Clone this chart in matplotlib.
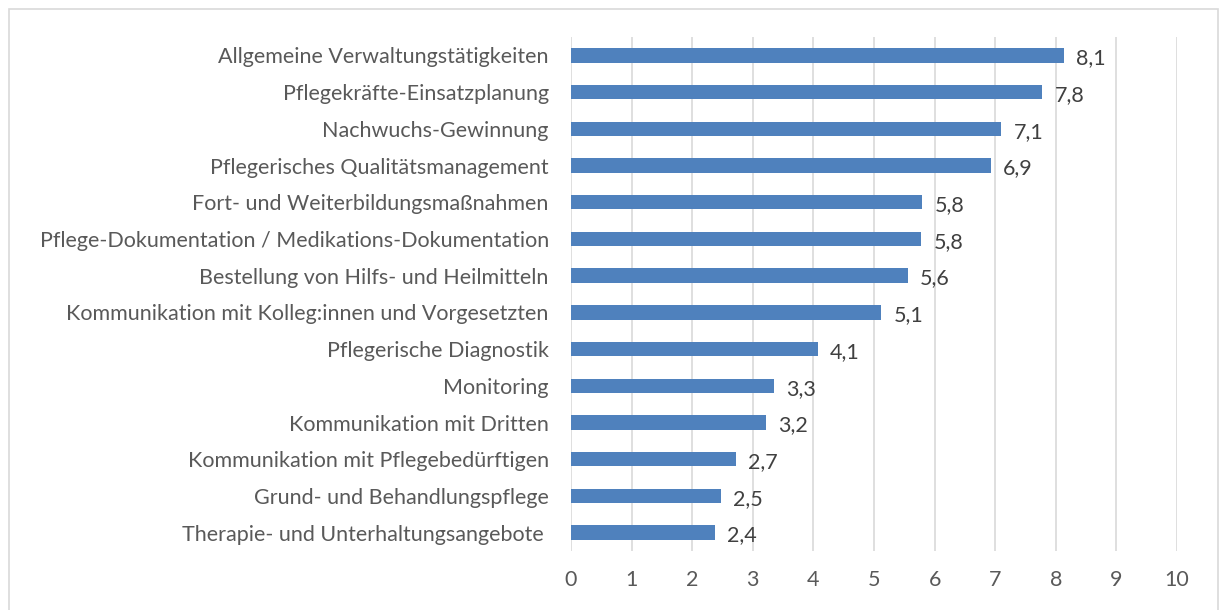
import matplotlib
matplotlib.use("Agg")
import matplotlib.pyplot as plt
from matplotlib.patches import Rectangle

categories = [
    "Allgemeine Verwaltungstätigkeiten",
    "Pflegekräfte-Einsatzplanung",
    "Nachwuchs-Gewinnung",
    "Pflegerisches Qualitätsmanagement",
    "Fort- und Weiterbildungsmaßnahmen",
    "Pflege-Dokumentation / Medikations-Dokumentation",
    "Bestellung von Hilfs- und Heilmitteln",
    "Kommunikation mit Kolleg:innen und Vorgesetzten",
    "Pflegerische Diagnostik",
    "Monitoring",
    "Kommunikation mit Dritten",
    "Kommunikation mit Pflegebedürftigen",
    "Grund- und Behandlungspflege",
    "Therapie- und Unterhaltungsangebote ",
]
values = [8.14, 7.78, 7.1, 6.93, 5.8, 5.78, 5.56, 5.12, 4.07, 3.35, 3.22, 2.72, 2.47, 2.38]
shown = ["8,1", "7,8", "7,1", "6,9", "5,8", "5,8", "5,6", "5,1", "4,1", "3,3", "3,2", "2,7", "2,5", "2,4"]
xticks = list(range(0, 11))

plt.rcParams["font.family"] = ["Lato", "DejaVu Sans"]
fig = plt.figure(figsize=(12.24, 6.10), dpi=100)
ax = fig.add_axes([571 / 1224, 1 - 551 / 610, 606 / 1224, 514 / 610])

y = list(range(len(categories)))
ax.barh(y, values, height=0.39, color="#4F81BD", zorder=3)
for yi, v, s in zip(y, values, shown):
    ax.text(v + 0.2, yi + 0.08, s, va="center", ha="left", fontsize=15.5, color="#404040")

ax.set_ylim(len(categories) - 0.5, -0.5)
ax.set_xlim(0, 10)
ax.set_yticks(y)
ax.set_yticklabels(categories, fontsize=15.5, color="#595959")
ax.set_xticks(xticks)
ax.set_xticklabels([str(t) for t in xticks], fontsize=15.5, color="#595959")
ax.tick_params(length=0)
ax.tick_params(axis="y", pad=16)
ax.tick_params(axis="x", pad=14)
ax.grid(axis="x", color="#D9D9D9", lw=1.2, zorder=0)
for s in ax.spines.values():
    s.set_visible(False)

fig.patches.append(Rectangle((8.5 / 1224, -0.05), 1209 / 1224, 1.05 - 8.5 / 610,
                             transform=fig.transFigure, fill=False,
                             edgecolor="#D9D9D9", lw=1.2))
fig.savefig("out.png", dpi=100)
